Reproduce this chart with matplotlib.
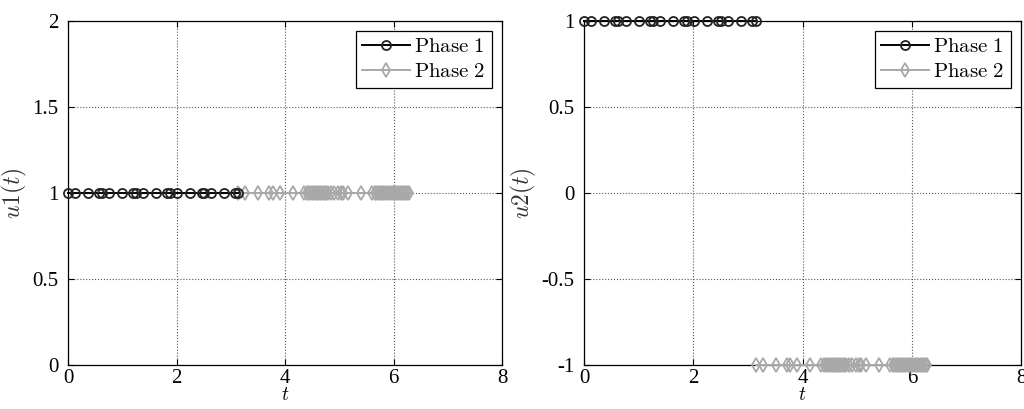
import matplotlib
matplotlib.use("Agg")
import matplotlib.pyplot as plt

# collocation times
t_phase1 = [0.0, 0.13, 0.37, 0.57, 0.63, 0.76, 1.0, 1.2, 1.26, 1.39, 1.63, 1.83,
            1.88, 2.01, 2.25, 2.46, 2.51, 2.64, 2.88, 3.08, 3.14]
t_phase2 = [3.14, 3.27, 3.51, 3.71, 3.77, 3.90, 4.14, 4.34, 4.40, 4.43, 4.46, 4.49,
            4.52, 4.55, 4.58, 4.61, 4.64, 4.67, 4.70, 4.73, 4.76, 4.80, 4.84, 4.90,
            4.97, 5.03, 5.07, 5.16, 5.40, 5.60, 5.65, 5.68, 5.71, 5.74, 5.77, 5.80,
            5.83, 5.86, 5.89, 5.92, 5.95, 5.98, 6.01, 6.04, 6.07, 6.10, 6.13, 6.16,
            6.19, 6.22, 6.25, 6.28]
u1_phase1 = [1.0] * len(t_phase1)
u1_phase2 = [1.0] * len(t_phase2)
u2_phase1 = [1.0] * len(t_phase1)
u2_phase2 = [-1.0] * len(t_phase2)

plt.rcParams['mathtext.fontset'] = 'cm'
plt.rcParams['font.family'] = ['Liberation Serif', 'DejaVu Serif']

fig = plt.figure(figsize=(10.24, 4.09), dpi=100)
ax1 = fig.add_axes([0.0664, 0.1076, 0.424, 0.841])
ax2 = fig.add_axes([0.5703, 0.1076, 0.427, 0.841])

grey = '#a8a8a8'
panels = [
    (ax1, u1_phase1, u1_phase2, r'$u1(t)$', (0, 2), [0, 0.5, 1, 1.5, 2], ['0', '0.5', '1', '1.5', '2']),
    (ax2, u2_phase1, u2_phase2, r'$u2(t)$', (-1, 1), [-1, -0.5, 0, 0.5, 1], ['-1', '-0.5', '0', '0.5', '1']),
]

for ax, y1, y2, ylab, ylim, yticks, ylabels in panels:
    ax.plot(t_phase1, y1, '-o', color='black', mfc='none', mec='#222222',
            ms=6.5, mew=1.3, lw=1.4, label=r'$\mathrm{Phase\ 1}$', clip_on=False, zorder=4)
    ax.plot(t_phase2, y2, '-d', color=grey, mfc='none', mec=grey,
            ms=7, mew=1.3, lw=1.4, label=r'$\mathrm{Phase\ 2}$', clip_on=False, zorder=3)
    ax.set_xlim(0, 8)
    ax.set_ylim(*ylim)
    ax.set_xticks([0, 2, 4, 6, 8])
    ax.set_xticklabels(['0', '2', '4', '6', '8'])
    ax.set_yticks(yticks)
    ax.set_yticklabels(ylabels)
    ax.tick_params(direction='in', length=4, labelsize=15, top=True, right=True)
    ax.tick_params(axis='y', pad=7)
    ax.tick_params(axis='x', pad=3)
    ax.grid(True, linestyle=':', color='#555555', linewidth=0.8)
    ax.set_xlabel(r'$t$', fontsize=14, labelpad=-1)
    ax.set_ylabel(ylab, fontsize=17, labelpad=2, color='#333333')
    for s in ax.spines.values():
        s.set_linewidth(0.9)
    leg = ax.legend(loc='upper right', fontsize=15, fancybox=False, framealpha=1,
                    edgecolor='black', handlelength=2.3, borderaxespad=0.5,
                    borderpad=0.3, labelspacing=0.25, handletextpad=0.2)
    leg.get_frame().set_linewidth(0.9)

fig.savefig('out.png', dpi=100)
